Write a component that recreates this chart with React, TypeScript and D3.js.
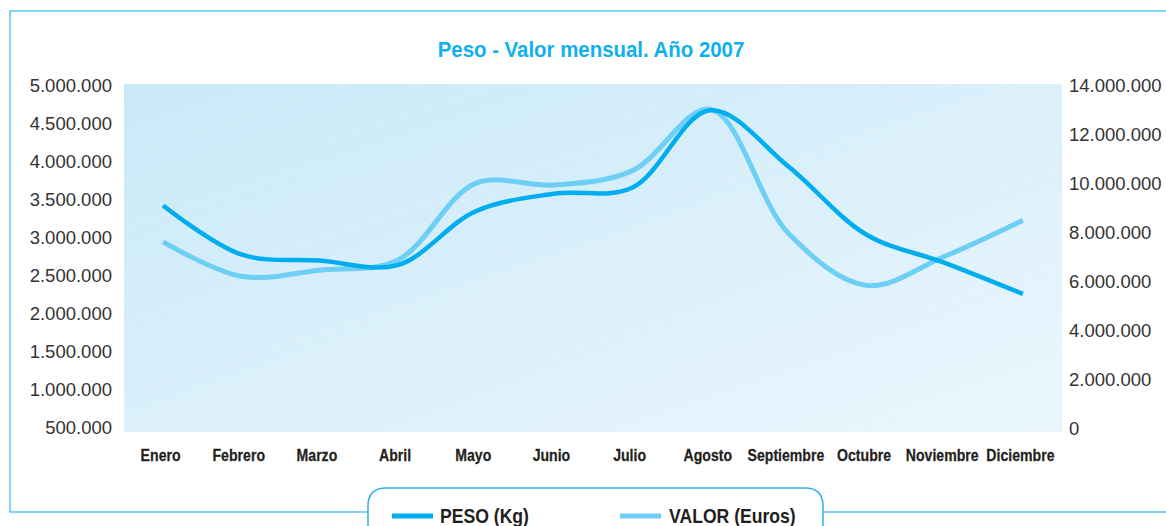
import React from "react";
import * as d3 from "d3";

const months = ["Enero", "Febrero", "Marzo", "Abril", "Mayo", "Junio", "Julio", "Agosto", "Septiembre", "Octubre", "Noviembre", "Diciembre"];
const peso = [3425000, 2780000, 2700000, 2640000, 3350000, 3580000, 3660000, 4680000, 3940000, 3040000, 2670000, 2260000];
const valor = [7630000, 6220000, 6470000, 6880000, 10020000, 9950000, 10530000, 13050000, 7980000, 5850000, 7040000, 8510000];
const leftTicks = [500000, 1000000, 1500000, 2000000, 2500000, 3000000, 3500000, 4000000, 4500000, 5000000];
const rightTicks = [0, 2000000, 4000000, 6000000, 8000000, 10000000, 12000000, 14000000];
const title = "Peso - Valor mensual. Año 2007";
const seriesNames = ["PESO (Kg)", "VALOR (Euros)"];

const W = 1166, H = 526;
const plot = { left: 124, right: 1062, top: 84, bottom: 432 };
const fmt = (v: number) => d3.format(",")(v).replace(/,/g, ".");

export default function App() {
  const x = d3.scalePoint<string>().domain(months).range([plot.left, plot.right]).padding(0.5);
  const yL = d3.scaleLinear().domain([500000, 5000000]).range([427.5, 86]);
  const yR = d3.scaleLinear().domain([0, 14000000]).range([428.5, 86]);
  const lineL = d3.line<number>().x((_, i) => x(months[i])!).y((d) => yL(d)).curve(d3.curveCatmullRom.alpha(0.5));
  const lineR = d3.line<number>().x((_, i) => x(months[i])!).y((d) => yR(d)).curve(d3.curveCatmullRom.alpha(0.5));
  const diag = d3.range(-30, 40).map((k) => k * 24);
  const numFont = "'Liberation Sans', Arial, sans-serif";
  const pw = plot.right - plot.left, ph = plot.bottom - plot.top;
  return (
    <svg width={W} height={H} style={{ position: "absolute", left: 0, top: 0, background: "#fff" }}>
      <defs>
        <linearGradient id="bg" x1="0" y1="0" x2="1" y2="1">
          <stop offset="0" stopColor="#c9e9f8" />
          <stop offset="1" stopColor="#ebf6fd" />
        </linearGradient>
        <clipPath id="pc"><rect x={plot.left} y={plot.top} width={pw} height={ph} /></clipPath>
      </defs>
      <path d={`M1166,11 H10 V512 H368 M823,512 H1166`} fill="none" stroke="#5cc6f2" strokeWidth={1.5} />
      <text transform="translate(591,57) scale(0.95,1)" textAnchor="middle" fontFamily={numFont} fontWeight="bold" fontSize={21.5} fill="#0fb0ec">{title}</text>
      <rect x={plot.left} y={plot.top} width={pw} height={ph} fill="url(#bg)" />
      <g clipPath="url(#pc)">
        {diag.map((d, i) => (
          <line key={i} x1={plot.left} y1={plot.top + d} x2={plot.right} y2={plot.top + d - 300}
            stroke="#ffffff" strokeOpacity={0.4} strokeWidth={0.7} strokeDasharray="3,2" />
        ))}
      </g>
      {leftTicks.map((t) => (
        <text key={t} x={112} y={yL(t)} dy="0.35em" textAnchor="end" fontFamily={numFont} fontSize={18.5} fill="#333">{fmt(t)}</text>
      ))}
      {rightTicks.map((t) => (
        <text key={t} x={1069} y={yR(t)} dy="0.35em" textAnchor="start" fontFamily={numFont} fontSize={18.5} fill="#333">{fmt(t)}</text>
      ))}
      {months.map((m) => (
        <text key={m} transform={`translate(${x(m)! - 2.5},460.5) scale(0.82,1)`} textAnchor="middle" fontFamily={numFont} fontWeight="bold" fontSize={17.2} fill="#231f20" stroke="#231f20" strokeWidth={0.25}>{m}</text>
      ))}
      <path d={lineR(valor)!} fill="none" stroke="#6dcff6" strokeWidth={5} strokeLinejoin="round" />
      <path d={lineL(peso)!} fill="none" stroke="#00aeef" strokeWidth={4.5} strokeLinejoin="round" />
      <path d={`M368,530 V506 Q368,488 386,488 H805 Q823,488 823,506 V530`} fill="#fff" stroke="#2eb4ea" strokeWidth={1.5} />
      <line x1={392} x2={433} y1={516} y2={516} stroke="#00aeef" strokeWidth={5} />
      <text transform="translate(440,523) scale(0.88,1)" fontFamily={numFont} fontWeight="bold" fontSize={20} fill="#231f20">{seriesNames[0]}</text>
      <line x1={620} x2={661} y1={516} y2={516} stroke="#6dcff6" strokeWidth={5} />
      <text transform="translate(669,523) scale(0.88,1)" fontFamily={numFont} fontWeight="bold" fontSize={20} fill="#231f20">{seriesNames[1]}</text>
    </svg>
  );
}
